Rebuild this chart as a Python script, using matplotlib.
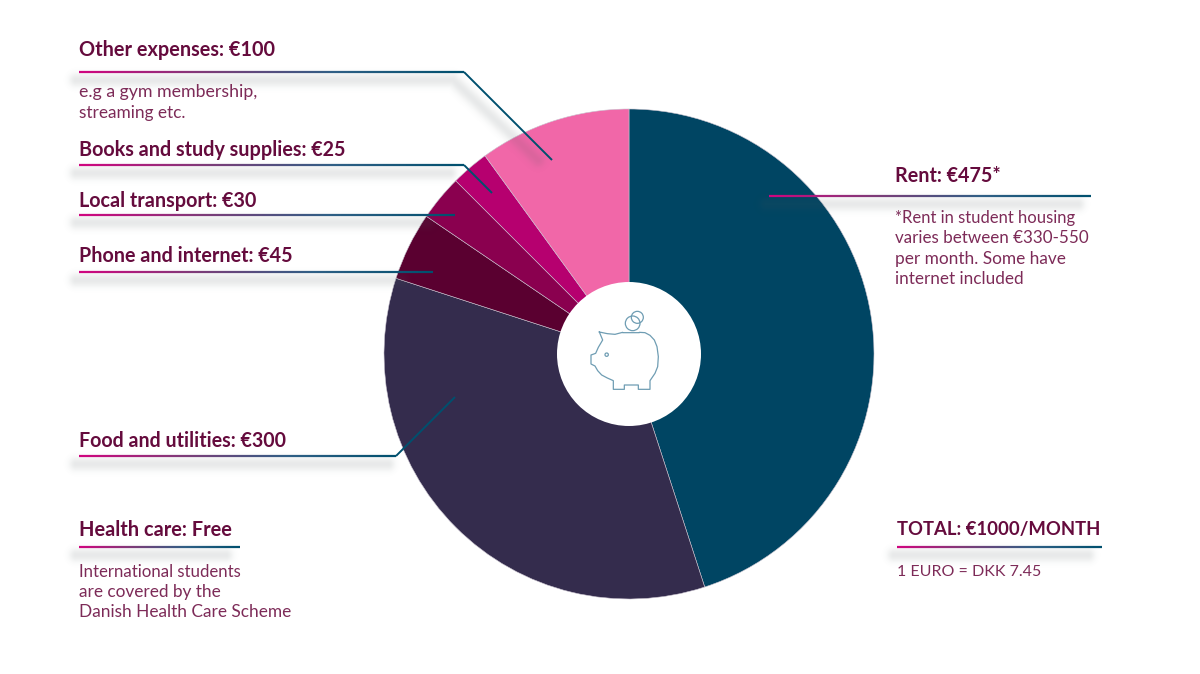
import numpy as np
import matplotlib
matplotlib.use("Agg")
import matplotlib.pyplot as plt
from matplotlib.collections import LineCollection
from matplotlib.colors import LinearSegmentedColormap
from matplotlib.patches import Circle

# Slice shares as drawn in the picture (clockwise from 12 o'clock)
categories = ["Rent", "Food and utilities", "Phone and internet",
              "Local transport", "Books and study supplies", "Other expenses"]
slice_shares = [450, 350, 45, 30, 25, 100]
slice_colors = ["#004563", "#342c4d", "#5a0030", "#8a004f", "#b6006f", "#f167a8"]

headings = ["Other expenses: €100", "Books and study supplies: €25",
            "Local transport: €30", "Phone and internet: €45",
            "Food and utilities: €300", "Health care: Free",
            "Rent: €475*", "TOTAL: €1000/MONTH"]

W, H = 1200, 674
HEAD = "#650b3d"
BODY = "#7d2b58"
FONT = "Lato"

def Y(py):
    return H - py

fig = plt.figure(figsize=(12, 6.74), dpi=100, facecolor="white")
ax = fig.add_axes([0, 0, 1, 1])

ax.pie(slice_shares, colors=slice_colors, startangle=90, counterclock=False,
       center=(629, Y(354)), radius=245,
       wedgeprops=dict(edgecolor="#c9c3cf", linewidth=0.4))
ax.add_patch(Circle((629, Y(354)), 72, fc="white", ec="none", zorder=3))

grad = LinearSegmentedColormap.from_list("g", ["#d0057f", "#7c3c78", "#2f5f85", "#00506e"])

# Soft shadows under the rules: Gaussian falloff from the shadow polylines
gx, gy = np.meshgrid(np.arange(W) + 0.5, np.arange(H) + 0.5)
shadow = np.zeros((H, W))

def add_shadow(points, sigma=4.8, peak=0.13):
    global shadow
    for (ax_, ay_), (bx_, by_) in zip(points[:-1], points[1:]):
        dx, dy = bx_ - ax_, by_ - ay_
        t = np.clip(((gx - ax_) * dx + (gy - ay_) * dy) / (dx * dx + dy * dy), 0, 1)
        d2 = (gx - ax_ - t * dx) ** 2 + (gy - ay_ - t * dy) ** 2
        shadow = np.maximum(shadow, peak * np.exp(-d2 / (2 * sigma * sigma)))

def leader(x0, y, x1, tail=None, shadow_end=None, shadow_tail=None):
    send = shadow_end if shadow_end is not None else x1 - 12
    pts = [(x0 - 3, y + 8), (send, y + 8)]
    if shadow_tail is not None:
        pts.append(shadow_tail)
    add_shadow(pts)
    n = 120
    xs = np.linspace(x0, x1, n)
    p = np.column_stack([xs, np.full(n, Y(y))]).reshape(-1, 1, 2)
    segs = np.concatenate([p[:-1], p[1:]], axis=1)
    lc = LineCollection(segs, cmap=grad, linewidths=1.6, zorder=5, capstyle="butt")
    lc.set_array(np.linspace(0, 1, n - 1))
    ax.add_collection(lc)
    if tail is not None:
        ax.plot([x1, tail[0]], [Y(y), Y(tail[1])], color="#00506e", lw=1.4, zorder=5,
                solid_capstyle="butt")

leader(79, 72, 464, tail=(552, 160), shadow_end=453, shadow_tail=(538, 160))
leader(79, 165, 464, tail=(492, 193), shadow_end=450)
leader(79, 214.5, 455, shadow_end=428)
leader(79, 272, 433, shadow_end=402)
leader(79, 456, 396, tail=(455, 397), shadow_end=388)
leader(79, 547, 240, shadow_end=226)
leader(769, 196, 1091, shadow_end=1078)
leader(897, 547, 1102, shadow_end=1088)

rgba = np.zeros((H, W, 4))
rgba[..., :3] = matplotlib.colors.to_rgb("#4a5558")
rgba[..., 3] = shadow
ax.imshow(rgba, extent=(0, W, 0, H), origin="upper", zorder=4, interpolation="nearest")

ax.set_xlim(0, W)
ax.set_ylim(0, H)
ax.set_aspect("equal")
ax.axis("off")

head_pos = [(79, 56), (79, 156), (79, 207), (79, 262), (79, 447), (79, 536), (895, 182), (897, 535)]
head_size = [14.3, 14.2, 14.2, 14.2, 14.1, 14.4, 14.2, 13.35]
for s, (x, y), fs in zip(headings, head_pos, head_size):
    ax.text(x, Y(y), s, color=HEAD, fontsize=fs, fontfamily=FONT, fontweight="bold",
            va="baseline", ha="left", zorder=6)

body = [(79, 97, "e.g a gym membership,", 12.8), (79, 118, "streaming etc.", 12.4),
        (895, 223, "*Rent in student housing", 11.95), (895, 243, "varies between €330-550", 12.25),
        (895, 264, "per month. Some have", 12.4), (895, 284, "internet included", 12.3),
        (79, 577, "International students", 12.1), (79, 597, "are covered by the", 12.4),
        (79, 617, "Danish Health Care Scheme", 12.4), (897, 576, "1 EURO = DKK 7.45", 11.5)]
for x, y, s, fs in body:
    ax.text(x, Y(y), s, color=BODY, fontsize=fs, fontfamily=FONT, va="baseline",
            ha="left", zorder=6)

# Piggy-bank icon
def ic(x, y):
    return 550 + x / 3, Y(290 + y / 3)

pig = [(148,126),(172,131),(195,133),(218,127),(218,128),(268,128),(268,127),(285,128),(300,136),
       (313,150),(321,170),(325,200),(323,230),(315,250),(300,272),(300,298),(265,298),
       (265,285),(223,285),(223,298),(190,298),(190,272),(172,264),(155,255),(143,242),(135,228),
       (123,222),(123,195),(137,190),(145,172),(158,150),(148,126)]
px, py = zip(*[ic(*p) for p in pig])
ICON = "#6f9db3"
ax.plot(px, py, color=ICON, lw=0.9, zorder=6, solid_joinstyle="round")
for cx, cy, r in [(262, 82, 18), (248, 100, 22), (170, 194, 5)]:
    ax.add_patch(Circle(ic(cx, cy), r / 3, fc="none", ec=ICON, lw=0.9, zorder=6))

fig.savefig("out.png", dpi=100, facecolor="white")
